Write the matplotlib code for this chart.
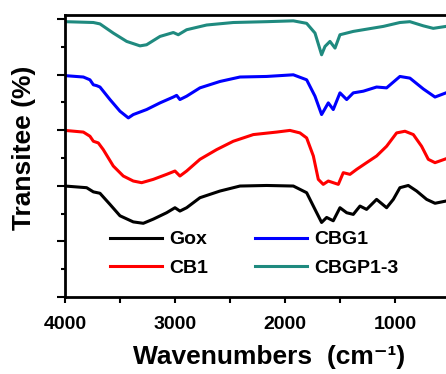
import matplotlib
matplotlib.use('Agg')
import matplotlib.pyplot as plt
from matplotlib.ticker import MultipleLocator, NullFormatter

plt.rcParams['font.family'] = ['Liberation Sans', 'DejaVu Sans']
plt.rcParams['font.weight'] = 'bold'

## FTIR spectra (offset transmittance, arb. units)
gox_wn = [4000, 3803, 3742, 3682, 3591, 3500, 3379, 3288, 3197, 3076, 3000, 2955,
          2894, 2773, 2591, 2409, 2167, 1924, 1803, 1727, 1667, 1621, 1561, 1500,
          1439, 1379, 1318, 1258, 1167, 1076, 1015, 955, 879, 803, 712, 636, 536]
gox_t = [3.99, 3.93, 3.78, 3.73, 3.33, 2.92, 2.70, 2.65, 2.80, 3.03, 3.21, 3.09,
         3.21, 3.57, 3.81, 3.99, 4.01, 3.99, 3.75, 3.15, 2.68, 2.86, 2.74, 3.21,
         3.03, 2.97, 3.27, 3.15, 3.51, 3.21, 3.51, 3.93, 4.01, 3.81, 3.51, 3.37, 3.45]

cb1_wn = [4000, 3833, 3773, 3742, 3697, 3652, 3561, 3470, 3379, 3303, 3197, 3076,
          3000, 2955, 2894, 2773, 2621, 2470, 2288, 2076, 1955, 1864, 1803, 1742,
          1697, 1652, 1606, 1561, 1515, 1470, 1409, 1348, 1258, 1167, 1076, 985,
          909, 833, 758, 697, 636, 536]
cb1_t = [5.99, 5.93, 5.78, 5.60, 5.54, 5.30, 4.71, 4.35, 4.17, 4.11, 4.23, 4.41,
         4.53, 4.35, 4.53, 4.95, 5.30, 5.60, 5.84, 5.93, 5.99, 5.90, 5.72, 5.07,
         4.23, 4.05, 4.17, 4.11, 4.05, 4.47, 4.41, 4.59, 4.83, 5.07, 5.42, 5.90,
         5.96, 5.84, 5.42, 4.95, 4.83, 4.97]

cbg1_wn = [4000, 3833, 3773, 3742, 3712, 3682, 3591, 3500, 3424, 3379, 3258, 3136,
           3015, 2985, 2955, 2894, 2773, 2591, 2409, 2167, 1924, 1803, 1727, 1667,
           1606, 1561, 1500, 1439, 1379, 1288, 1167, 1076, 955, 864, 742, 636, 536]
cbg1_t = [7.96, 7.91, 7.81, 7.63, 7.60, 7.55, 7.10, 6.68, 6.44, 6.56, 6.74, 6.98,
          7.19, 7.25, 7.10, 7.22, 7.52, 7.75, 7.91, 7.93, 7.99, 7.81, 7.22, 6.56,
          6.98, 6.74, 7.34, 7.10, 7.34, 7.40, 7.55, 7.52, 7.93, 7.87, 7.48, 7.19, 7.34]

cbgp_wn = [4000, 3742, 3682, 3561, 3439, 3318, 3258, 3136, 3015, 2970, 2894, 2712,
           2470, 2167, 1924, 1803, 1727, 1667, 1636, 1591, 1545, 1500, 1439, 1379,
           1258, 1106, 955, 864, 742, 652, 536]
cbgp_t = [9.90, 9.87, 9.82, 9.49, 9.19, 9.03, 9.07, 9.37, 9.51, 9.43, 9.61, 9.78,
          9.87, 9.90, 9.93, 9.84, 9.49, 8.71, 9.01, 9.19, 8.95, 9.43, 9.49, 9.55,
          9.63, 9.73, 9.87, 9.90, 9.75, 9.66, 9.73]

fig = plt.figure(figsize=(4.46, 3.74), dpi=100)
ax = fig.add_axes([0.1457, 0.2059, 0.8543, 0.754])

ax.plot(gox_wn, gox_t, color='black', lw=2.2, label='Gox')
ax.plot(cb1_wn, cb1_t, color='#ff0000', lw=2.2, label='CB1')
ax.plot(cbg1_wn, cbg1_t, color='#0000ff', lw=2.2, label='CBG1')
ax.plot(cbgp_wn, cbgp_t, color='#1f8a7f', lw=2.2, label='CBGP1-3')

ax.set_xlim(4000, 536)
ax.set_ylim(0, 10.14)

## ticks
ax.xaxis.set_major_locator(MultipleLocator(1000))
ax.xaxis.set_minor_locator(MultipleLocator(500))
ax.yaxis.set_major_locator(MultipleLocator(2))
ax.yaxis.set_minor_locator(MultipleLocator(1))
ax.yaxis.set_major_formatter(NullFormatter())
ax.tick_params(axis='x', which='both', direction='out', length=4, width=1.5,
               labelsize=14, pad=10, top=False)
ax.tick_params(axis='y', which='major', direction='out', length=6, width=1.5, right=False)
ax.tick_params(axis='y', which='minor', direction='out', length=3, width=1.5, right=False)

for s in ['left', 'bottom', 'top']:
    ax.spines[s].set_linewidth(2)
ax.spines['right'].set_visible(False)

ax.set_xlabel('Wavenumbers  (cm\u207b\u00b9)', fontsize=19, fontweight='bold')
ax.set_ylabel('Transitee (%)', fontsize=19, fontweight='bold')
ax.xaxis.set_label_coords(0.535, -0.172)
ax.yaxis.set_label_coords(-0.075, 0.53)

## legend: Gox / CB1 in the first column, CBG1 / CBGP1-3 in the second
ax.legend(ncol=2, loc='upper left', bbox_to_anchor=(0.118, 0.235), frameon=False,
          borderpad=0, borderaxespad=0, handlelength=2.7,
          handletextpad=0.35, columnspacing=2.4, labelspacing=0.55,
          prop={'weight': 'bold', 'size': 14})

plt.savefig('out.png', dpi=100)
